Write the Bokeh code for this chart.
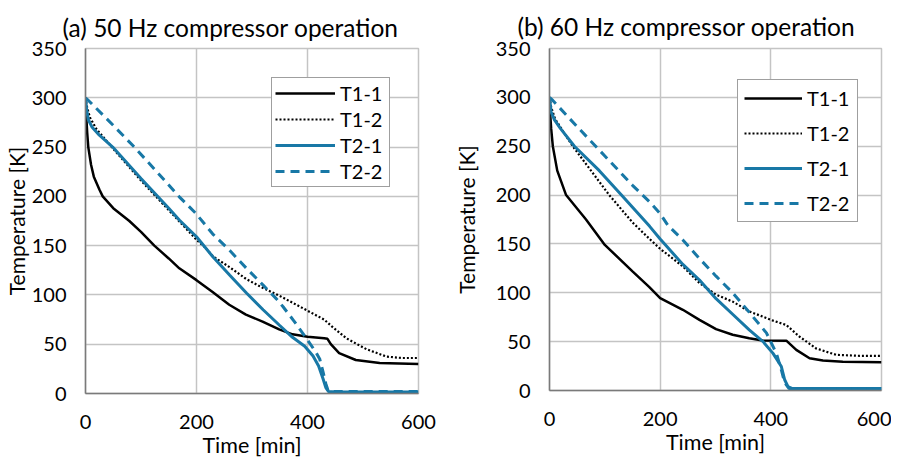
from bokeh.plotting import figure
from bokeh.layouts import row
from bokeh.models import FixedTicker, Range1d, Legend, LegendItem, Title
from bokeh.embed import file_html
from bokeh.resources import INLINE

FONT = "Lato"

# ---------------- data: (a) 50 Hz ----------------
a_t11 = [0, 1, 3, 5, 10, 15, 25, 31, 50, 79, 100, 124, 150, 169, 200, 229, 259, 289, 319, 349, 373, 400, 430, 436, 442, 457, 487, 530, 600]
a_T11 = [300, 285, 265, 250, 232, 220, 207, 200, 188, 175, 164, 150, 137, 127, 115, 103, 90, 80, 73, 65, 60, 57.5, 56, 55.5, 50, 41, 34, 31, 30]

a_t12 = [0, 3, 8, 20, 49, 100, 150, 200, 214, 230, 260, 290, 320, 350, 380, 400, 430, 446, 470, 506, 542, 570, 600]
a_T12 = [300, 290, 280, 268, 249, 216, 186, 156, 149, 139, 128, 116, 107, 99, 90, 84, 75, 67, 56, 45, 37.5, 36, 36]

a_t21 = [0, 2, 5, 12, 25, 49, 100, 150, 169, 200, 229, 260, 290, 320, 350, 373, 395, 410, 420, 428, 433, 438, 450, 600]
a_T21 = [300, 288, 278, 270, 262, 250, 218, 188, 176, 159, 139, 120, 102, 85, 69, 57, 48, 38, 28, 15, 6, 2, 1.5, 1.5]

a_t22 = [0, 4, 50, 88, 130, 169, 199, 229, 260, 290, 320, 344, 356, 375, 398, 415, 422, 428, 433, 437, 445, 600]
a_T22 = [300, 298, 272, 250, 224, 199.5, 182.6, 162, 145, 127, 110, 96, 88, 74, 56, 42, 35, 22, 10, 3, 2, 2]

# ---------------- data: (b) 60 Hz ----------------
b_t11 = [0, 1, 3, 6, 14, 30, 66, 100, 150, 180, 200, 241, 271, 301, 331, 361, 385, 428, 446, 470, 494, 530, 600]
b_T11 = [300, 285, 268, 250, 225, 200, 175, 149, 122, 106, 94.5, 82.6, 72.3, 62.8, 57, 53.5, 51.2, 51, 41.6, 33, 30.7, 29.5, 29]

b_t12 = [0, 3, 10, 42, 75, 108, 150, 181, 200, 241, 271, 301, 331, 361, 400, 428, 452, 482, 518, 560, 600]
b_T12 = [300, 290, 278, 250, 225, 200, 172, 155, 145, 127, 110, 98, 91, 81, 72.3, 67, 55, 43, 36.5, 35.5, 35.5]

b_t21 = [0, 3, 9, 20, 45, 90, 130, 181, 200, 241, 271, 301, 331, 361, 386, 404, 419, 425, 431, 439, 600]
b_T21 = [300, 285, 277, 268, 250, 225, 200, 168, 155, 129, 113, 94, 78, 62, 50, 38, 24.5, 11, 4, 2, 2]

b_t22 = [0, 4, 50, 100, 150, 181, 200, 214, 241, 271, 301, 331, 349, 361, 392, 410, 419, 425, 433, 600]
b_T22 = [300, 298, 270, 240, 210, 193, 181, 169, 154, 135, 117, 100, 88, 80, 59, 38, 21, 8, 2, 2]

series_names = ["T1-1", "T1-2", "T2-1", "T2-2"]
x_ticks = [0, 200, 400, 600]
y_ticks = [0, 50, 100, 150, 200, 250, 300, 350]

BLUE = "#1878a6"
styles = [
    dict(line_color="black", line_width=2.5),
    dict(line_color="black", line_width=2.2, line_dash="2 2"),
    dict(line_color=BLUE, line_width=3),
    dict(line_color=BLUE, line_width=3, line_dash="9 6"),
]


def make_panel(title, data, frame_w, frame_h, b_left, b_right, b_top, title_standoff,
               title_offset, ylab_standoff, leg_loc, leg_pad, leg_glyph_w, leg_spacing, leg_label_w):
    p = figure(frame_width=frame_w, frame_height=frame_h, output_backend="svg", toolbar_location=None,
               x_range=Range1d(0, 600), y_range=Range1d(0, 350))
    p.min_border_left = b_left
    p.min_border_top = b_top
    p.min_border_bottom = 40
    p.min_border_right = b_right
    p.background_fill_color = "white"
    p.border_fill_color = "white"
    p.outline_line_color = "#c4c4c4"
    p.outline_line_width = 1.5

    p.title = Title(text=title, align="left", offset=title_offset, text_font=FONT,
                    text_font_size="24.5px", text_font_style="normal", text_color="black",
                    standoff=title_standoff)

    p.xaxis.ticker = FixedTicker(ticks=x_ticks)
    p.yaxis.ticker = FixedTicker(ticks=y_ticks)
    for ax in (p.xaxis[0], p.yaxis[0]):
        ax.major_tick_in = 0
        ax.major_tick_out = 0
        ax.minor_tick_line_color = None
        ax.axis_line_color = "#7a7a7a"
        ax.axis_line_width = 1.5
        ax.major_label_text_font = FONT
        ax.major_label_text_font_size = "20px"
        ax.major_label_text_color = "black"
        ax.axis_label_text_font = FONT
        ax.axis_label_text_font_style = "normal"
        ax.axis_label_text_color = "black"
    p.xaxis.axis_label = "Time [min]"
    p.yaxis.axis_label = "Temperature [K]"
    p.xaxis.axis_label_text_font_size = "21.5px"
    p.yaxis.axis_label_text_font_size = "21px"
    p.xaxis.major_label_standoff = 21
    p.xaxis.axis_label_standoff = 0
    p.yaxis.major_label_standoff = 19
    p.yaxis.axis_label_standoff = ylab_standoff

    p.grid.grid_line_color = "#c4c4c4"
    p.grid.grid_line_width = 1.5

    items = []
    for name, (tx, ty), st in zip(series_names, data, styles):
        r = p.line(tx, ty, **st)
        items.append(LegendItem(label=name, renderers=[r]))

    leg = Legend(items=items, location=leg_loc)
    leg.label_text_font = FONT
    leg.label_text_font_size = "20px"
    leg.label_text_color = "black"
    leg.border_line_color = "#404040"
    leg.border_line_width = 1.5
    leg.background_fill_color = "white"
    leg.background_fill_alpha = 1.0
    leg.padding = leg_pad
    leg.margin = 0
    leg.spacing = leg_spacing
    leg.glyph_width = leg_glyph_w
    leg.glyph_height = 20
    leg.label_height = 20
    leg.label_standoff = 5
    leg.label_width = leg_label_w
    p.add_layout(leg, "center")
    return p


pa = make_panel("(a) 50 Hz compressor operation",
                [(a_t11, a_T11), (a_t12, a_T12), (a_t21, a_T21), (a_t22, a_T22)],
                frame_w=333, frame_h=345, b_left=78, b_right=31, b_top=46, title_standoff=14,
                title_offset=-23, ylab_standoff=0,
                leg_loc=(186, 206), leg_pad=3, leg_glyph_w=60, leg_spacing=2, leg_label_w=46)

pb = make_panel("(b) 60 Hz compressor operation",
                [(b_t11, b_T11), (b_t12, b_T12), (b_t21, b_T21), (b_t22, b_T22)],
                frame_w=332, frame_h=342, b_left=100, b_right=10, b_top=48, title_standoff=16,
                title_offset=-32, ylab_standoff=14,
                leg_loc=(188, 168), leg_pad=6, leg_glyph_w=58, leg_spacing=11, leg_label_w=44)

layout = row(pa, pb, spacing=0)
open("out.html", "w").write(file_html(layout, INLINE))
